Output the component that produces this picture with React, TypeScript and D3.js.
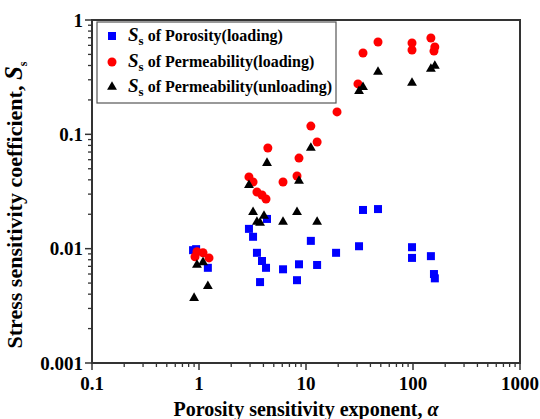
import React from "react";
import * as d3 from "d3";

const porosityLoading: [number, number][] = [
  [0.88, 0.0097], [0.94, 0.0099], [1.21, 0.0068], [2.93, 0.0149], [3.2, 0.0127],
  [3.48, 0.0092], [3.88, 0.0078], [4.23, 0.0068], [4.32, 0.0182], [3.72, 0.0051],
  [6.1, 0.0066], [8.6, 0.0073], [8.24, 0.0053], [12.7, 0.0072], [11.1, 0.0117],
  [19.1, 0.0092], [31.3, 0.0105], [34.1, 0.0218], [47.1, 0.0222], [97.9, 0.0103],
  [97.9, 0.0083], [147, 0.0086], [157, 0.006], [160, 0.0055],
];

const permeabilityLoading: [number, number][] = [
  [0.918, 0.0085], [0.957, 0.0094], [1.09, 0.0092], [1.24, 0.0083], [2.93, 0.0424],
  [3.2, 0.0383], [3.48, 0.0313], [3.88, 0.0295], [4.23, 0.0272], [4.4, 0.0759],
  [6.1, 0.0383], [8.24, 0.0432], [8.6, 0.062], [11.1, 0.118], [12.7, 0.0857],
  [19.5, 0.157], [30.6, 0.276], [34.1, 0.514], [47.1, 0.642], [97.9, 0.629],
  [97.9, 0.547], [147, 0.696], [160, 0.58], [157, 0.535],
];

const permeabilityUnloading: [number, number][] = [
  [0.9, 0.0037], [0.957, 0.0072], [1.09, 0.0076], [1.21, 0.0047], [2.93, 0.036],
  [3.2, 0.0209], [3.48, 0.0171], [3.72, 0.0168], [4.05, 0.0193], [4.32, 0.0561],
  [6.1, 0.0171], [8.24, 0.0209], [8.6, 0.0391], [12.7, 0.0171], [11.1, 0.0759],
  [31.3, 0.239], [34.1, 0.259], [47.1, 0.351], [97.9, 0.281], [147, 0.373], [160, 0.396],
];

const xTicks = [0.1, 1, 10, 100, 1000];
const xTickLabels = ["0.1", "1", "10", "100", "1000"];
const yTicks = [0.001, 0.01, 0.1, 1];
const yTickLabels = ["0.001", "0.01", "0.1", "1"];
const legendLabels = [" of Porosity(loading)", " of Permeability(loading)", " of Permeability(unloading)"];

const W = 540, H = 419;
const L = 92, R = 520, T = 20, B = 363;
const FONT = '"Liberation Serif", "Times New Roman", Times, serif';
const tf: React.CSSProperties = { fontFamily: FONT };

export default function App() {
  const x = d3.scaleLog().domain([0.1, 1000]).range([L, R]);
  const y = d3.scaleLog().domain([0.001, 1]).range([B, T]);

  const minorX: number[] = [];
  for (let e = -1; e < 3; e++) for (let m = 2; m <= 9; m++) minorX.push(m * Math.pow(10, e));
  const minorY: number[] = [];
  for (let e = -3; e < 0; e++) for (let m = 2; m <= 9; m++) minorY.push(m * Math.pow(10, e));

  const tri = d3.symbol(d3.symbolTriangle, 42)() as string;
  const axisColor = "#333";

  const marker = (k: number, cx: number, cy: number, key: string) => {
    if (k === 0) return <rect key={key} x={cx - 4} y={cy - 4} width={8} height={8} fill="#0000FF" />;
    if (k === 1) return <circle key={key} cx={cx} cy={cy} r={4.5} fill="#FF0000" />;
    return <path key={key} d={tri} transform={`translate(${cx},${cy})`} fill="#000" />;
  };

  const series = [porosityLoading, permeabilityLoading, permeabilityUnloading];
  const legendY = [36, 62, 87];

  return (
    <svg width={W} height={H} style={{ position: "absolute", left: 0, top: 0, background: "#fff", fontFamily: FONT }}>
      <rect x={0} y={0} width={W} height={H} fill="#fff" />
      {minorX.map((v, i) => (
        <line key={"mx" + i} x1={x(v)} x2={x(v)} y1={B} y2={B + 4} stroke={axisColor} strokeWidth={1.3} />
      ))}
      {xTicks.map((v, i) => (
        <line key={"Mx" + i} x1={x(v)} x2={x(v)} y1={B} y2={B + 7} stroke={axisColor} strokeWidth={1.5} />
      ))}
      {minorY.map((v, i) => (
        <line key={"my" + i} x1={L - 4} x2={L} y1={y(v)} y2={y(v)} stroke={axisColor} strokeWidth={1.3} />
      ))}
      {yTicks.map((v, i) => (
        <line key={"My" + i} x1={L - 7} x2={L} y1={y(v)} y2={y(v)} stroke={axisColor} strokeWidth={1.5} />
      ))}
      {series.map((s, k) => s.map((d, i) => marker(k, x(d[0]), y(d[1]), `p${k}-${i}`)))}
      <rect x={L} y={T} width={R - L} height={B - T} fill="none" stroke={axisColor} strokeWidth={2} />
      {xTicks.map((v, i) => (
        <text key={"xl" + i} style={tf} x={x(v)} y={390} textAnchor="middle" fontSize={19} fontWeight="bold" fill="#000">
          {xTickLabels[i]}
        </text>
      ))}
      {yTicks.map((v, i) => (
        <text key={"yl" + i} style={tf} x={L - 9} y={y(v)} dy="0.35em" textAnchor="end" fontSize={19} fontWeight="bold" fill="#000">
          {yTickLabels[i]}
        </text>
      ))}
      <text style={tf} x={(L + R) / 2} y={416} textAnchor="middle" fontSize={20} fontWeight="bold" fill="#000">
        Porosity sensitivity exponent, <tspan fontStyle="italic">α</tspan>
      </text>
      <text style={tf} transform={`translate(22,205) rotate(-90)`} textAnchor="middle" fontSize={22} fontWeight="bold" fill="#000">
        Stress sensitivity coefficient, <tspan fontStyle="italic" fontSize={25}>S</tspan>
        <tspan fontSize={12} dy={5}>s</tspan>
      </text>
      <rect x={97} y={22} width={239} height={81} fill="#fff" stroke="#555" strokeWidth={1.2} />
      {legendLabels.map((lab, k) => (
        <g key={"lg" + k}>
          {marker(k, 112, legendY[k], "lm" + k)}
          <text style={tf} x={128} y={legendY[k] + 5} fontSize={16} fontWeight="bold" fill="#000">
            <tspan fontStyle="italic" fontSize={19}>S</tspan>
            <tspan fontSize={13} dy={4}>s</tspan>
            <tspan dy={-4}>{lab}</tspan>
          </text>
        </g>
      ))}
    </svg>
  );
}
